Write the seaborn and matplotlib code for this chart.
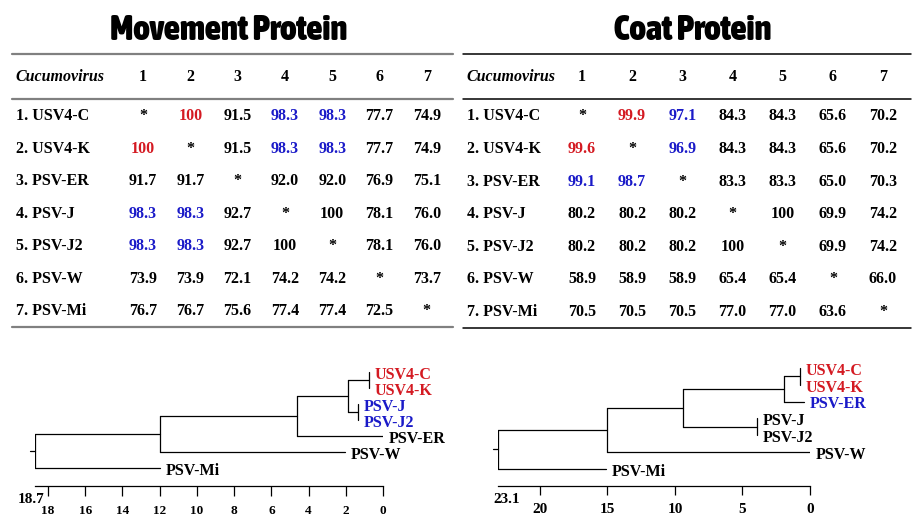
import matplotlib
matplotlib.use("Agg")
import matplotlib.pyplot as plt
from matplotlib import font_manager as fm
import seaborn as sns
import numpy as np

# ---- data ----
strains = ["USV4-C", "USV4-K", "PSV-ER", "PSV-J", "PSV-J2", "PSV-W", "PSV-Mi"]
col_labels = ["1", "2", "3", "4", "5", "6", "7"]

# pairwise identity (%) - diagonal is nan ('*')
mp_identity = [
    [np.nan, 100, 91.5, 98.3, 98.3, 77.7, 74.9],
    [100, np.nan, 91.5, 98.3, 98.3, 77.7, 74.9],
    [91.7, 91.7, np.nan, 92.0, 92.0, 76.9, 75.1],
    [98.3, 98.3, 92.7, np.nan, 100, 78.1, 76.0],
    [98.3, 98.3, 92.7, 100, np.nan, 78.1, 76.0],
    [73.9, 73.9, 72.1, 74.2, 74.2, np.nan, 73.7],
    [76.7, 76.7, 75.6, 77.4, 77.4, 72.5, np.nan],
]
cp_identity = [
    [np.nan, 99.9, 97.1, 84.3, 84.3, 65.6, 70.2],
    [99.6, np.nan, 96.9, 84.3, 84.3, 65.6, 70.2],
    [99.1, 98.7, np.nan, 83.3, 83.3, 65.0, 70.3],
    [80.2, 80.2, 80.2, np.nan, 100, 69.9, 74.2],
    [80.2, 80.2, 80.2, 100, np.nan, 69.9, 74.2],
    [58.9, 58.9, 58.9, 65.4, 65.4, np.nan, 66.0],
    [70.5, 70.5, 70.5, 77.0, 77.0, 63.6, np.nan],
]
mp_red = [(0, 1), (1, 0)]
mp_blue = [(0, 3), (0, 4), (1, 3), (1, 4), (3, 0), (3, 1), (4, 0), (4, 1)]
cp_red = [(0, 1), (1, 0)]
cp_blue = [(0, 2), (1, 2), (2, 0), (2, 1)]

# dendrograms: leaf order top->bottom, where each leaf branch ends,
# merges as (child_a, child_b, height) like a linkage table
mp_leaves = ["USV4-C", "USV4-K", "PSV-J", "PSV-J2", "PSV-ER", "PSV-W", "PSV-Mi"]
mp_leaf_col = ["red", "red", "blue", "blue", "black", "black", "black"]
mp_tips = [0.75, 0.75, 1.35, 1.35, 0.0, 2.05, 12.0]
mp_merges = [(0, 1, 0.75), (2, 3, 1.35), (7, 8, 1.9), (9, 4, 4.6), (10, 5, 12.0), (11, 6, 18.7)]
mp_ticks = [18, 16, 14, 12, 10, 8, 6, 4, 2, 0]

cp_leaves = ["USV4-C", "USV4-K", "PSV-ER", "PSV-J", "PSV-J2", "PSV-W", "PSV-Mi"]
cp_leaf_col = ["red", "red", "blue", "black", "black", "black", "black"]
cp_tips = [0.75, 0.75, 0.45, 3.9, 3.9, 0.0, 15.1]
cp_merges = [(0, 1, 0.75), (7, 2, 1.9), (3, 4, 3.9), (8, 9, 9.4), (10, 5, 15.0), (11, 6, 23.1)]
cp_ticks = [20, 15, 10, 5, 0]

RED = "#d41a22"
BLUE = "#1a1ac8"
cmap = {"red": RED, "blue": BLUE, "black": "black"}

sns.set_style("white")
plt.rcParams['font.family'] = ['Liberation Serif', 'DejaVu Serif']
plt.rcParams['font.weight'] = 'bold'
plt.rcParams['text.color'] = 'black'
plt.rcParams['xtick.color'] = 'black'


# heavy condensed face for the titles, if one is installed
def pick_title_font():
    cands = []
    for f in fm.fontManager.ttflist:
        w = f.weight if isinstance(f.weight, int) else {"bold": 700, "heavy": 800, "black": 900}.get(f.weight, 400)
        narrow = ("Narrow" in f.name or "Condensed" in f.name or "Condensed" in f.fname
                  or f.stretch in ("condensed", "semi-condensed", "extra-condensed"))
        if narrow and w >= 700 and f.style == "normal":
            cands.append((-w, f.fname))
    if cands:
        cands.sort()
        return fm.FontProperties(fname=cands[0][1], size=25)
    return fm.FontProperties(family="Roboto", weight="black", size=20)


title_prop = pick_title_font()

W, H = 922, 525
fig = plt.figure(figsize=(W / 100, H / 100), dpi=100)


def px_rect(x0, y0, x1, y1):
    return [x0 / W, 1 - y1 / H, (x1 - x0) / W, (y1 - y0) / H]


def fmt(v):
    if np.isnan(v):
        return "*"
    if v == 100:
        return "100"
    return f"{v:.1f}"


def draw_table(rect, xlim, values, red, blue, rule_color, rule_lw):
    ax = fig.add_axes(rect)
    ax.set_xlim(*xlim)
    ax.set_ylim(7.49, -0.908)
    ax.axis("off")
    for y in [-0.908, 0.477, 7.49]:
        ax.axhline(y, color=rule_color, lw=rule_lw, clip_on=False)
    lab_tr = ax.get_yaxis_transform()
    ax.text(0.008, -0.2, "Cucumovirus", transform=lab_tr, style="italic",
            fontsize=11.5, ha="left", va="center")
    for k, c in enumerate(col_labels):
        ax.text(k + 1, -0.2, c, fontsize=11.5, ha="center", va="center")
    for i, name in enumerate(strains):
        ax.text(0.008, i + 1, f"{i + 1}. {name}", transform=lab_tr,
                fontsize=11.5, ha="left", va="center")
        for j in range(len(strains)):
            v = values[i][j]
            color = RED if (i, j) in red else BLUE if (i, j) in blue else "black"
            ax.text(j + 1, i + 1, fmt(v), fontsize=11.5, ha="center", va="center", color=color)
    return ax


draw_table(px_rect(12, 54, 453, 327), (-1.770, 7.554), mp_identity, mp_red, mp_blue, "#808080", 1.6)
draw_table(px_rect(463, 54, 911, 328), (-1.372, 7.558), cp_identity, cp_red, cp_blue, "black", 1.1)

fig.text(229 / W, 1 - 30 / H, "Movement Protein", ha="center", va="center", fontproperties=title_prop)
fig.text(693 / W, 1 - 30 / H, "Coat Protein", ha="center", va="center", fontproperties=title_prop)


def draw_tree(ax, leaves, leaf_col, tips, merges, ticks, ylim, tick_fs, root_fs, root_off, tick_len, pad, stub):
    ys = list(range(len(leaves)))
    hs = list(tips)
    for a, b, h in merges:
        ax.plot([h, h], [ys[a], ys[b]], color="black", lw=0.9)
        ax.plot([h, hs[a]], [ys[a], ys[a]], color="black", lw=0.9)
        ax.plot([h, hs[b]], [ys[b], ys[b]], color="black", lw=0.9)
        ys.append((ys[a] + ys[b]) / 2)
        hs.append(h)
    root = hs[-1]
    ax.plot([root, root + stub], [ys[-1], ys[-1]], color="black", lw=0.9, clip_on=False)
    for i, name in enumerate(leaves):
        ax.annotate(name, (tips[i], i), xytext=(4, -2), textcoords="offset points",
                    ha="left", va="center", fontsize=11.5, color=cmap[leaf_col[i]],
                    annotation_clip=False)
    ax.set_xlim(root, 0)
    ax.set_ylim(*ylim)
    sns.despine(ax=ax, left=True, top=True, right=True)
    ax.spines["bottom"].set_bounds(0, root)
    ax.spines["bottom"].set_linewidth(0.9)
    ax.spines["bottom"].set_color("black")
    ax.set_yticks([])
    ax.set_xticks(ticks)
    ax.set_xticklabels([str(t) for t in ticks], fontweight="bold")
    ax.tick_params(axis="x", direction="out", length=tick_len, width=0.9, pad=pad,
                   labelsize=tick_fs, bottom=True, color="black")
    ax.annotate(f"{root}", xy=(root, 0), xycoords=ax.get_xaxis_transform(),
                xytext=root_off, textcoords="offset points", ha="center", va="center",
                fontsize=root_fs, annotation_clip=False)
    ax.patch.set_visible(False)


ax1 = fig.add_axes(px_rect(35, 360, 383, 486))
draw_tree(ax1, mp_leaves, mp_leaf_col, mp_tips, mp_merges, mp_ticks,
          (7.125, -0.75), 9.5, 11, (-3, -10), 7, 7, 0.25)
ax2 = fig.add_axes(px_rect(498, 360, 810, 486))
draw_tree(ax2, cp_leaves, cp_leaf_col, cp_tips, cp_merges, cp_ticks,
          (7.02, -0.476), 11, 11, (6.5, -10), 6.5, 6, 0.35)

fig.savefig("out.png", dpi=100, facecolor="white")
